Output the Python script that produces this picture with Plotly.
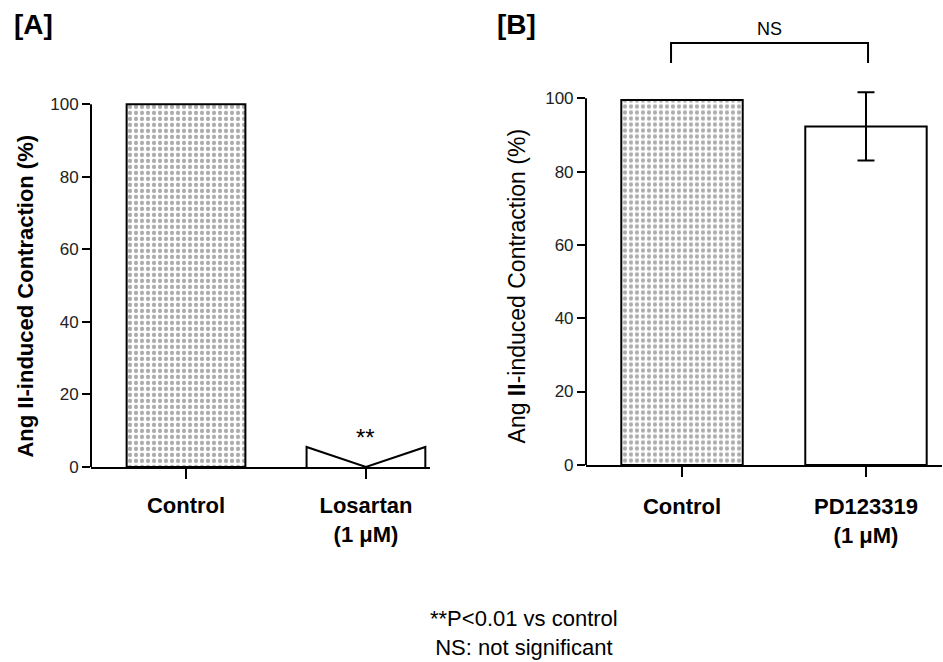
import plotly.graph_objects as go

# ---------------- data ----------------
a_categories = ["Control", "Losartan<br>(1 μM)"]
a_control_value = [100.0]
a_losartan_mean = 0.0
a_losartan_err = 5.5

b_categories = ["Control", "PD123319<br>(1 μM)"]
b_control_value = [99.5]
b_pd_value = [92.3]
b_pd_err = [9.3]

y_ticks = [0, 20, 40, 60, 80, 100]
BAR_W = 0.66
FONT = "Arial, Liberation Sans, sans-serif"

fig = go.Figure()

pattern = dict(shape=".", bgcolor="white", fgcolor="#5a5a5a", size=6, solidity=0.4)

# Panel A
fig.add_trace(go.Bar(x=[0], y=a_control_value, width=BAR_W, xaxis="x", yaxis="y",
                     marker=dict(color="white", pattern=pattern,
                                 line=dict(color="black", width=2)),
                     showlegend=False, hoverinfo="skip"))
half = BAR_W / 2
env_x = [1 - half, 1 - half, 1, 1 + half, 1 + half]
env_y = [a_losartan_mean, a_losartan_mean + a_losartan_err, a_losartan_mean,
         a_losartan_mean + a_losartan_err, a_losartan_mean]
fig.add_trace(go.Scatter(x=env_x, y=env_y, mode="lines", xaxis="x", yaxis="y",
                         line=dict(color="black", width=2), showlegend=False,
                         hoverinfo="skip"))

# Panel B
fig.add_trace(go.Bar(x=[0], y=b_control_value, width=BAR_W, xaxis="x2", yaxis="y2",
                     marker=dict(color="white", pattern=pattern,
                                 line=dict(color="black", width=2)),
                     showlegend=False, hoverinfo="skip"))
fig.add_trace(go.Bar(x=[1], y=b_pd_value, width=BAR_W, xaxis="x2", yaxis="y2",
                     marker=dict(color="white", line=dict(color="black", width=2)),
                     error_y=dict(type="data", array=b_pd_err, color="black",
                                  thickness=2, width=8.5),
                     showlegend=False, hoverinfo="skip"))

xaxis_common = dict(tickvals=[0, 1], showline=True, linecolor="black", linewidth=2,
                    ticks="outside", ticklen=10, tickwidth=2, tickcolor="black",
                    showgrid=False, zeroline=False, fixedrange=True,
                    tickfont=dict(family=FONT, size=22, color="black"))
yaxis_common = dict(range=[0, 110], tickvals=y_ticks, showline=False,
                    ticks="outside", ticklen=8, tickwidth=2, tickcolor="black",
                    showgrid=False, zeroline=False, fixedrange=True,
                    tickfont=dict(family=FONT, size=17, color="#222"))

fig.update_layout(
    width=943, height=662,
    margin=dict(l=0, r=0, t=0, b=0),
    paper_bgcolor="white", plot_bgcolor="white",
    barmode="overlay",
    xaxis=dict(domain=[0.0965, 0.4560], range=[-0.528, 1.356], anchor="y",
               ticklabelstandoff=8,
               ticktext=[f"<b>{c}</b>" for c in a_categories], **xaxis_common),
    yaxis=dict(domain=[0.2838, 0.8958], anchor="x", **yaxis_common),
    xaxis2=dict(domain=[0.6214, 0.9989], range=[-0.522, 1.413], anchor="y2",
                ticklabelstandoff=11,
                ticktext=[f"<b>{c}</b>" for c in b_categories], **xaxis_common),
    yaxis2=dict(domain=[0.2870, 0.9056], anchor="x2", **yaxis_common),
)

# y axis lines (0..100 only)
for xr, yr in [("x domain", "y"), ("x2 domain", "y2")]:
    fig.add_shape(type="line", xref=xr, yref=yr, x0=0, x1=0, y0=0, y1=100,
                  line=dict(color="black", width=2))

# NS bracket
fig.add_shape(type="path", xref="paper", yref="paper",
              path="M 0.7116 0.9032 L 0.7116 0.9339 L 0.9205 0.9339 L 0.9205 0.9032",
              line=dict(color="black", width=2))

ann = [
    dict(text="<b>[A]</b>", x=0.035, y=0.9631, size=28),
    dict(text="<b>[B]</b>", x=0.5472, y=0.9631, size=28),
    dict(text="NS", x=0.8155, y=0.9554, size=18),
    dict(text="**P<0.01 vs control<br>NS: not significant", x=0.5557, y=0.0290, size=22),
]
for a in ann:
    fig.add_annotation(text=a["text"], x=a["x"], y=a["y"], xref="paper", yref="paper",
                       xanchor="center", yanchor="middle", showarrow=False,
                       font=dict(family=FONT, size=a["size"], color="black"))

fig.add_annotation(text="<b>Ang II-induced Contraction (%)</b>", x=0.0276, y=0.5452,
                   xref="paper", yref="paper", textangle=-90, showarrow=False,
                   xanchor="center", yanchor="middle",
                   font=dict(family=FONT, size=22, color="black"))
fig.add_annotation(text="Ang <b>II</b>-induced Contraction (%)", x=0.5482, y=0.5621,
                   xref="paper", yref="paper", textangle=-90, showarrow=False,
                   xanchor="center", yanchor="middle",
                   font=dict(family=FONT, size=23, color="black"))

fig.add_annotation(text="**", x=1, y=a_losartan_mean + a_losartan_err + 2.5,
                   xref="x", yref="y", showarrow=False, xanchor="center",
                   yanchor="middle", font=dict(family=FONT, size=24, color="black"))

fig.write_html("out.html")
